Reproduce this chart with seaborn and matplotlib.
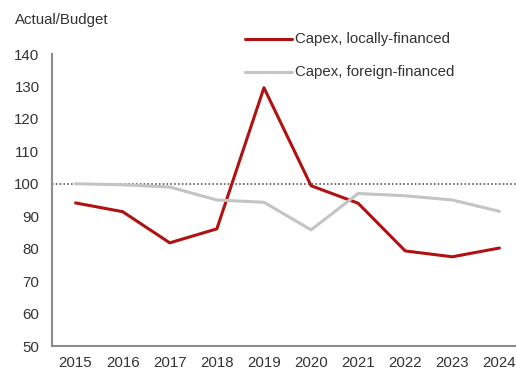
import matplotlib
matplotlib.use("Agg")
import matplotlib.pyplot as plt
import seaborn as sns
import pandas as pd

years = ["2015", "2016", "2017", "2018", "2019", "2020", "2021", "2022", "2023", "2024"]
local_financed = [94.1, 91.4, 81.8, 86.1, 129.6, 99.4, 94.0, 79.3, 77.5, 80.2]
foreign_financed = [100.0, 99.7, 99.0, 95.0, 94.3, 85.8, 97.0, 96.3, 95.0, 91.5]
series_names = ["Capex, locally-financed", "Capex, foreign-financed"]
yticks = [50, 60, 70, 80, 90, 100, 110, 120, 130, 140]

sns.set_theme(style="white")
plt.rcParams["font.family"] = ["Liberation Sans", "DejaVu Sans"]

df = pd.DataFrame({
    "year": years * 2,
    "value": local_financed + foreign_financed,
    "series": [series_names[0]] * len(years) + [series_names[1]] * len(years),
})
df["x"] = list(range(len(years))) * 2

fig = plt.figure(figsize=(5.16, 3.74), dpi=100)
ax = fig.add_axes([52 / 516, 1 - 346 / 374, (523 - 52) / 516, (346 - 54) / 374])

palette = {series_names[0]: "#B01212", series_names[1]: "#C4C4C4"}
sns.lineplot(data=df, x="x", y="value", hue="series", palette=palette,
             linewidth=2.2, ax=ax, legend=False, sort=False)

ax.axhline(100, color="#404040", linestyle=(0, (1, 1.5)), linewidth=1.1, zorder=0)

ax.set_xlim(-0.5, len(years) - 0.5)
ax.set_ylim(50, 140)
ax.set_xticks(range(len(years)))
ax.set_xticklabels(years)
ax.set_yticks(yticks)
ax.tick_params(axis="both", length=0, labelsize=10.8, colors="#333333")
ax.tick_params(axis="y", pad=9)
ax.tick_params(axis="x", pad=7)
ax.set_xlabel("")
ax.set_ylabel("")

for side in ["top", "right"]:
    ax.spines[side].set_visible(False)
for side in ["left", "bottom"]:
    ax.spines[side].set_color("#8C8C8C")
    ax.spines[side].set_linewidth(1.5)

fig.text(15 / 516, 1 - 20 / 374, "Actual/Budget", fontsize=10.8, color="#333333",
         va="center", ha="left")

# legend drawn at the top of the figure
for name, y in zip(series_names, [39, 72]):
    yf = 1 - y / 374
    fig.add_artist(plt.Line2D([245 / 516, 292 / 516], [yf, yf],
                              color=palette[name], linewidth=2.2,
                              transform=fig.transFigure))
    fig.text(295 / 516, yf, name, fontsize=10.8, color="#333333",
             va="center", ha="left")

fig.savefig("out.png", dpi=100)
